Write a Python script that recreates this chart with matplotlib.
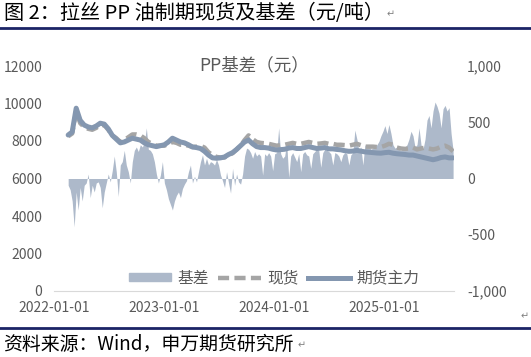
import numpy as np
import pandas as pd
import matplotlib
matplotlib.use('Agg')
import matplotlib.pyplot as plt
from matplotlib.ticker import FuncFormatter
from matplotlib.patches import Patch
from matplotlib.lines import Line2D

plt.rcParams['font.family'] = ['Noto Sans CJK SC', 'DejaVu Sans']

# futures main contract and spot price (yuan/t), roughly every 13 days
futures = [8320, 8480, 9750, 9100, 8850, 8750, 8700, 8800, 8950, 8900,
           8650, 8300, 8100, 7900, 7950, 8050, 8150, 8100, 8050, 7900,
           7800, 7750, 7700, 7750, 7800, 7950, 8150, 8050, 7950, 7900,
           7800, 7680, 7650, 7600, 7450, 7250, 7100, 7080, 7100, 7150,
           7280, 7380, 7550, 7750, 7950, 8050, 7850, 7700, 7650, 7650,
           7620, 7560, 7520, 7540, 7560, 7620, 7650, 7600, 7600, 7650,
           7700, 7650, 7600, 7620, 7650, 7580, 7580, 7550, 7530, 7480,
           7450, 7460, 7500, 7460, 7420, 7400, 7380, 7360, 7350, 7380,
           7400, 7350, 7320, 7300, 7280, 7250, 7250, 7200, 7150, 7100,
           7050, 7000, 7050, 7120, 7150, 7100, 7100]
spot = [8250, 8400, 9600, 8950, 8750, 8650, 8600, 8700, 8850, 8850,
        8600, 8300, 8150, 7950, 8050, 8200, 8350, 8350, 8300, 8150,
        7950, 7850, 7750, 7750, 7750, 7850, 7950, 7900, 7800, 7800,
        7750, 7680, 7700, 7750, 7650, 7400, 7250, 7150, 7120, 7120,
        7250, 7350, 7550, 7750, 8050, 8300, 8100, 7950, 7900, 7880,
        7850, 7800, 7750, 7780, 7800, 7850, 7900, 7850, 7850, 7900,
        7950, 7900, 7850, 7870, 7900, 7850, 7850, 7800, 7800, 7780,
        7750, 7800, 7850, 7780, 7700, 7700, 7700, 7680, 7680, 7750,
        7850, 7800, 7650, 7600, 7580, 7600, 7650, 7550, 7600, 7650,
        7600, 7550, 7600, 7700, 7750, 7650, 7450]

# basis (yuan), roughly weekly
basis = [-60, -100, -200, -430, -120, -280, -80, -200, -60, -40,
         40, -170, -60, -120, -40, -30, -80, -260, -120, -40,
         40, -30, 70, 200, 60, -160, 120, 150, 250, 120,
         60, -40, 150, 250, 280, 240, 300, 280, 320, 450,
         260, 250, 220, 150, 40, -40,
         30, 150, -40, -100, -180, -230, -280, -200, -150, -120,
         -170, -90, -50, -20, 60, 120, -40, 20, -30, 60,
         150, 210, 120, 180, 120, 150, 140, 120, 170, 120,
         30, -20, -80, 60, -40, -130, 90, -60, 40, -30,
         -50, 40, 200, 270, 260, 230, 180, 240, 200, 220,
         200, 30, 220, 200, 230, 200, 70, 220, 230, 450,
         220, 180, 200, 320, 10, 200, 230, 190, 150, 220,
         60, 220, 240, 210, 200, 90, 220, 240, 260, 250,
         100, 230, 260, 250, 240, 220, 120, 230, 220, 200,
         150, 210, 230, 220, 120, 210, 230, 430, 350, 250,
         280, 120, 300, 280, 290, 260, 270, 280, 300, 330,
         380, 420, 470, 400, 480, 400, 300, 270, 280, 260,
         250, 270, 280, 300, 350, 420, 380, 280, 300, 450,
         300, 260, 350, 520, 560, 450, 600, 680, 640, 580,
         450, 620, 650, 600, 630, 400, 250]

start, end = '2022-02-17', '2025-08-17'
price_dates = pd.date_range(start, end, periods=len(futures))
basis_dates = pd.date_range(start, end, periods=len(basis))
year_ticks = pd.to_datetime(['2022-01-01', '2023-01-01', '2024-01-01', '2025-01-01'])

c_area = '#adb9ca'
c_fut = '#8497b0'
c_spot = '#a5a5a5'
c_text = '#595959'
c_navy = '#1b2466'

fig = plt.figure(figsize=(5.31, 3.57), dpi=100)
ax = fig.add_axes([54 / 531, 1 - 291 / 357, 400 / 531, 225 / 357])
ax2 = ax.twinx()
ax.set_zorder(ax2.get_zorder() + 1)
ax.patch.set_visible(False)

ax2.fill_between(basis_dates, 0, basis, color=c_area, linewidth=0)
ax.plot(price_dates, spot, color=c_spot, lw=3.2, dashes=(2.5, 1.2))
ax.plot(price_dates, futures, color=c_fut, lw=3.6, solid_capstyle='round')

ax.set_xlim(pd.Timestamp('2022-01-01'), pd.Timestamp('2025-08-20'))
ax.set_ylim(0, 12000)
ax2.set_ylim(-1000, 1000)
ax.set_yticks(range(0, 12001, 2000))
ax2.set_yticks([-1000, -500, 0, 500, 1000])
ax2.yaxis.set_major_formatter(FuncFormatter(lambda v, p: f'{v:,.0f}'))
ax.set_xticks(year_ticks)
ax.set_xticklabels([d.strftime('%Y-%m-%d') for d in year_ticks])

for a in (ax, ax2):
    for s in a.spines.values():
        s.set_visible(False)
    a.tick_params(length=0, labelsize=10, colors=c_text)
ax.spines['bottom'].set_visible(True)
ax.spines['bottom'].set_color('#d9d9d9')
ax.tick_params(axis='y', pad=8.5)
ax.tick_params(axis='x', pad=7)
ax2.tick_params(axis='y', pad=9.5)

fig.text(254 / 531, 1 - 65 / 357, 'PP基差（元）', ha='center', va='center',
         fontsize=12.6, color=c_text)

handles = [Patch(color=c_area),
           Line2D([], [], color=c_spot, lw=3.2, dashes=(2.5, 1.2)),
           Line2D([], [], color=c_fut, lw=3.6)]
ax.legend(handles, ['基差', '现货', '期货主力'], loc='center',
          bbox_to_anchor=(274 / 531, 1 - 278 / 357), bbox_transform=fig.transFigure,
          ncol=3, frameon=False, fontsize=11.3, handlelength=2.7,
          handleheight=0.45, handletextpad=0.4, columnspacing=0.6, labelcolor=c_text)

# header / footer of the report page
fig.text(4 / 531, 1 - 13 / 357, '图 2：拉丝 PP 油制期现货及基差（元/吨）', ha='left',
         va='center', fontsize=14.5, color='black')
fig.text(387 / 531, 1 - 14 / 357, '↵', ha='left', va='center', fontsize=7, color='#808080')
fig.add_artist(Line2D([0, 1], [1 - 28 / 357] * 2, color=c_navy, lw=2))
fig.text(521 / 531, 1 - 316 / 357, '↵', ha='left', va='center', fontsize=7, color='#808080')
fig.add_artist(Line2D([0, 1], [1 - 328 / 357] * 2, color=c_navy, lw=2))
fig.text(3 / 531, 1 - 344 / 357, '资料来源：Wind，申万期货研究所', ha='left',
         va='center', fontsize=13.6, color='black')
fig.text(298 / 531, 1 - 345 / 357, '↵', ha='left', va='center', fontsize=7, color='#808080')

fig.savefig('out.png', dpi=100)
